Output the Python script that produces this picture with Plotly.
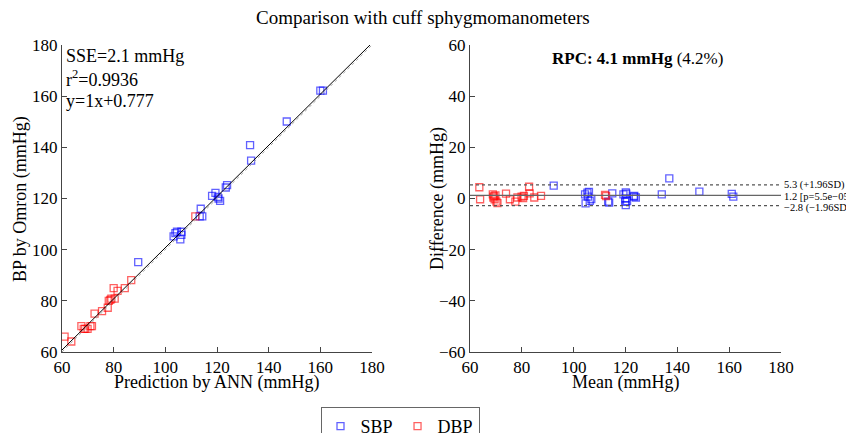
import plotly.graph_objects as go

# ---------------- data ----------------
sbp_ann = [160.0, 161.0, 147.0, 132.8, 133.2, 123.9, 123.4, 118.1, 119.4, 120.3, 120.6, 121.2,
           113.7, 114.3, 113.3, 103.2, 103.9, 104.5, 106.2, 106.2, 105.8, 89.5]
sbp_omron = [162.2, 162.2, 150.1, 140.9, 134.8, 125.2, 124.3, 121.0, 122.2, 120.6, 120.0, 119.1,
             116.0, 113.0, 113.0, 105.2, 106.5, 107.0, 107.0, 105.8, 104.0, 95.1]
dbp_ann = [111.6, 86.8, 84.3, 80.0, 81.5, 79.1, 80.4, 78.1, 78.7, 77.7, 75.5, 72.6,
           67.5, 68.4, 69.0, 69.9, 71.0, 71.6, 61.0, 63.6]
dbp_omron = [113.0, 88.1, 85.0, 85.0, 83.9, 80.9, 80.9, 80.0, 80.4, 77.3, 76.0, 75.0,
             70.1, 69.0, 69.0, 69.0, 70.1, 70.1, 66.0, 64.1]

sbp_mean = [92.3, 104.4, 105.3, 105.9, 105.5, 104.6, 106.2, 106.8, 113.3, 113.7, 114.9,
            119.2, 120.1, 120.3, 120.0, 119.9, 120.1, 120.6, 123.4, 124.0, 123.2,
            134.0, 136.9, 148.5, 161.0, 161.6]
sbp_diff = [5.0, 1.6, 2.3, 2.6, 0.7, -1.9, -0.9, -0.2, -1.2, -1.6, 2.0,
            1.6, 2.4, 1.9, 0.0, -1.3, -2.6, -1.0, 1.0, 0.4, 0.7,
            1.6, 7.9, 2.7, 1.8, 0.7]
dbp_mean = [63.6, 63.9, 68.8, 69.2, 69.0, 69.5, 70.2, 70.6, 69.8, 73.9, 75.4, 77.5,
            78.3, 79.9, 80.8, 80.5, 82.8, 83.0, 84.8, 87.4, 112.1, 112.5]
dbp_diff = [4.4, -0.3, 1.6, 0.9, 0.4, -0.3, -1.2, -1.8, 1.2, 1.9, -0.3, -1.2,
            0.4, 0.7, 1.0, 0.2, 4.6, 2.0, 0.4, 1.0, 1.4, 0.9]

fit_slope = 1.0
fit_intercept = 0.777
axis_range = [60, 180]
diff_range = [-60, 60]
mean_diff = 1.2
upper_loa = 5.3
lower_loa = -2.8
tick_vals = [60, 80, 100, 120, 140, 160, 180]
diff_ticks = [-60, -40, -20, 0, 20, 40, 60]

# ---------------- figure ----------------
W, H = 846, 433
FONT = "Times New Roman, Liberation Serif, serif"
BLUE = "rgba(0,0,255,0.62)"
RED = "rgba(255,0,0,0.62)"

def px(x):
    return x / W

def py(y):
    return 1 - y / H

fig = go.Figure()

mk = dict(symbol="square-open", size=7)
fig.add_trace(go.Scatter(x=sbp_ann, y=sbp_omron, mode="markers", name="SBP",
                         marker=dict(color=BLUE, line=dict(width=1.3, color=BLUE), **mk),
                         xaxis="x", yaxis="y", legendgroup="s"))
fig.add_trace(go.Scatter(x=dbp_ann, y=dbp_omron, mode="markers", name="DBP",
                         marker=dict(color=RED, line=dict(width=1.3, color=RED), **mk),
                         xaxis="x", yaxis="y", legendgroup="d"))

# identity and regression lines
fig.add_trace(go.Scatter(x=axis_range, y=axis_range, mode="lines",
                         line=dict(color="#aaaaaa", width=1, dash="dot"),
                         showlegend=False, xaxis="x", yaxis="y", hoverinfo="skip"))
fx = [axis_range[0], (axis_range[1] - fit_intercept) / fit_slope]
fy = [fit_slope * v + fit_intercept for v in fx]
fig.add_trace(go.Scatter(x=fx, y=fy, mode="lines", line=dict(color="black", width=1),
                         showlegend=False, xaxis="x", yaxis="y", hoverinfo="skip"))

# Bland-Altman
fig.add_trace(go.Scatter(x=sbp_mean, y=sbp_diff, mode="markers", name="SBP",
                         marker=dict(color=BLUE, line=dict(width=1.3, color=BLUE), **mk),
                         xaxis="x2", yaxis="y2", showlegend=False, legendgroup="s"))
fig.add_trace(go.Scatter(x=dbp_mean, y=dbp_diff, mode="markers", name="DBP",
                         marker=dict(color=RED, line=dict(width=1.3, color=RED), **mk),
                         xaxis="x2", yaxis="y2", showlegend=False, legendgroup="d"))
fig.add_trace(go.Scatter(x=axis_range, y=[mean_diff, mean_diff], mode="lines",
                         line=dict(color="#666666", width=1.2), showlegend=False,
                         xaxis="x2", yaxis="y2", hoverinfo="skip"))
for v in (upper_loa, lower_loa):
    fig.add_trace(go.Scatter(x=axis_range, y=[v, v], mode="lines",
                             line=dict(color="#555555", width=1.2, dash="dot"), showlegend=False,
                             xaxis="x2", yaxis="y2", hoverinfo="skip"))

axis_common = dict(showline=True, linecolor="#444444", linewidth=1, ticks="inside",
                   ticklen=5, tickcolor="#444444", showgrid=False, zeroline=False,
                   automargin=False,
                   tickfont=dict(family=FONT, size=17, color="black"))

fig.update_layout(
    width=W, height=H,
    margin=dict(l=0, r=0, t=0, b=0, autoexpand=False),
    paper_bgcolor="white", plot_bgcolor="white",
    font=dict(family=FONT, size=17, color="black"),
    xaxis=dict(domain=[px(62), px(372)], range=axis_range, tickvals=tick_vals,
               anchor="y", **axis_common),
    yaxis=dict(domain=[py(352), py(45)], range=axis_range, tickvals=tick_vals,
               anchor="x", **axis_common),
    xaxis2=dict(domain=[px(470), px(781)], range=axis_range, tickvals=tick_vals,
                anchor="y2", **axis_common),
    yaxis2=dict(domain=[py(352), py(45)], range=diff_range, tickvals=diff_ticks,
                ticktext=[str(v).replace("-", "\u2212") for v in diff_ticks],
                anchor="x2", **axis_common),
    showlegend=True,
    legend=dict(orientation="h", x=px(400), xanchor="center", y=py(407), yanchor="top",
                bordercolor="#666666", borderwidth=1, bgcolor="white",
                font=dict(family=FONT, size=18), itemwidth=30),
)

ann = []
def A(text, x, y, size=17, xanchor="center", yanchor="middle", angle=0, xref="paper", yref="paper"):
    ann.append(dict(text=text, x=x, y=y, xref=xref, yref=yref, showarrow=False,
                    xanchor=xanchor, yanchor=yanchor, textangle=angle,
                    font=dict(family=FONT, size=size, color="black")))

A("Comparison with cuff sphygmomanometers", px(423), py(18), size=19)
A("SSE=2.1 mmHg", px(64), py(56), size=18, xanchor="left")
A("r<sup>2</sup>=0.9936", px(64), py(79), size=18, xanchor="left")
A("y=1x+0.777", px(64), py(101), size=18, xanchor="left")
A("Prediction by ANN (mmHg)", px(217), py(382), size=18)
A("BP by Omron (mmHg)", px(20), py(199), size=18, angle=-90)
A("Mean (mmHg)", px(625), py(382), size=18)
A("Difference (mmHg)", px(437), py(199), size=18, angle=-90)
A("<b>RPC: 4.1 mmHg</b> (4.2%)", px(637), py(58), size=17)
A(f"{upper_loa} (+1.96SD)", px(782), upper_loa, size=10.5, xanchor="left", yref="y2")
A(f"{mean_diff} [p=5.5e\u221205]", px(782), mean_diff - 0.4, size=10.5, xanchor="left", yref="y2")
A(f"\u2212{abs(lower_loa)} (\u22121.96SD)", px(782), lower_loa - 0.8, size=10.5, xanchor="left", yref="y2")
fig.update_layout(annotations=ann)

fig.write_html("out.html")
